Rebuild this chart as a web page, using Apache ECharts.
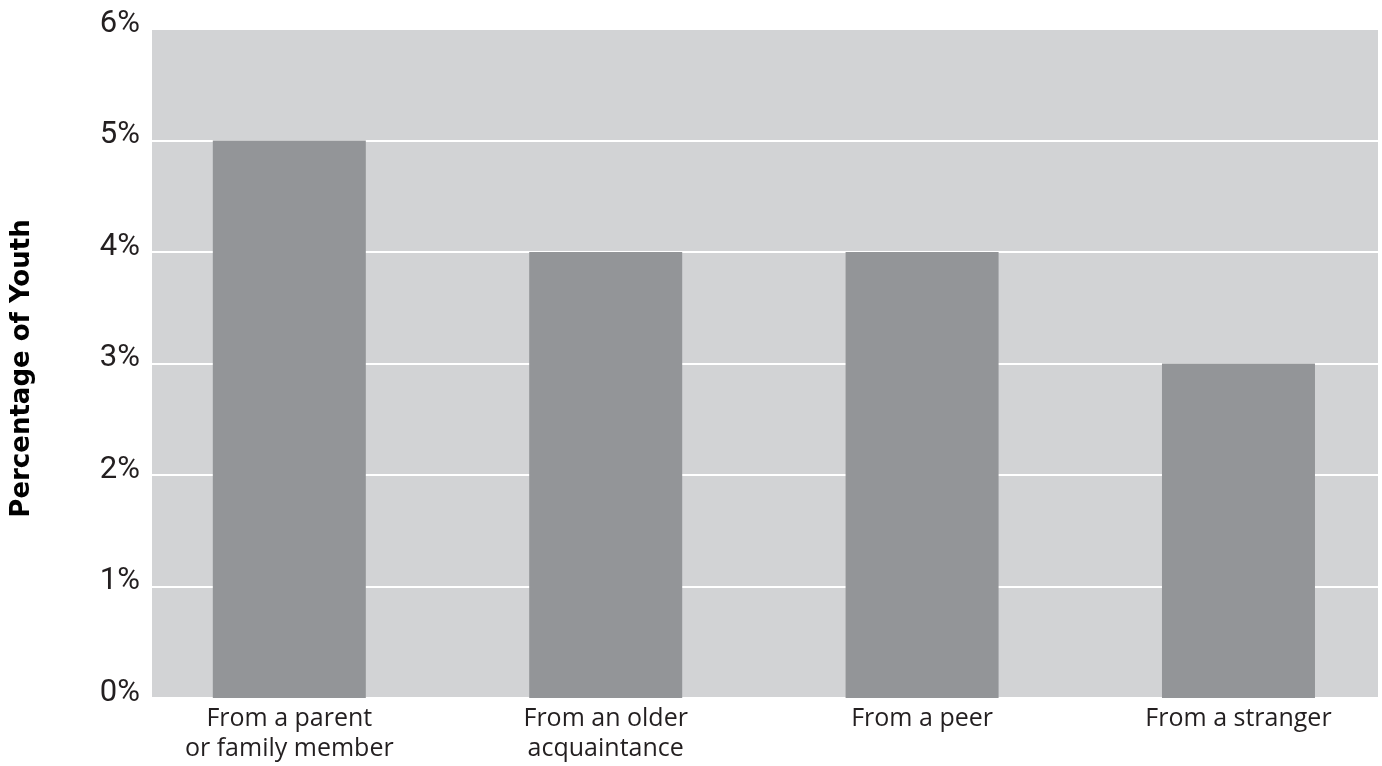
<!DOCTYPE html>
<html>
<head>
<meta charset="utf-8">
<script src="https://cdn.jsdelivr.net/npm/echarts@6/dist/echarts.min.js"></script>
<style>
html,body{margin:0;padding:0;background:#fff;}
#chart{width:1382px;height:766px;}
</style>
</head>
<body>
<div id="chart"></div>
<script>
const categories = ['From a parent\nor family member', 'From an older\nacquaintance', 'From a peer', 'From a stranger'];
const values = [5, 4, 4, 3];
const yTicks = [0, 1, 2, 3, 4, 5, 6];
const yTitle = 'Percentage of Youth';

const chart = echarts.init(document.getElementById('chart'));
chart.setOption({
  animation: false,
  grid: {
    left: 152, right: 4, top: 29, bottom: 68,
    show: true, backgroundColor: '#d2d3d5', borderWidth: 0
  },
  xAxis: {
    type: 'value',
    min: -0.434, max: 3.441,
    splitLine: { show: false },
    axisLine: { show: false },
    axisTick: { show: false },
    axisLabel: {
      customValues: categories.map((c, i) => i),
      formatter: v => categories[Math.round(v)] || '',
      fontFamily: 'Open Sans', fontSize: 25, lineHeight: 30,
      color: '#231f20', margin: 6, verticalAlign: 'top'
    }
  },
  yAxis: {
    type: 'value',
    min: 0, max: 6, interval: 1,
    name: yTitle,
    nameLocation: 'middle',
    nameGap: 117,
    nameRotate: 90,
    nameTextStyle: { fontFamily: 'DejaVu Sans', fontWeight: 'bold', fontSize: 26, color: '#000', padding: [0, 10, 0, 0] },
    axisLine: { show: false },
    axisTick: { show: false },
    splitLine: { show: true, lineStyle: { color: '#ffffff', width: 2 } },
    axisLabel: {
      customValues: yTicks,
      formatter: v => v + '%',
      fontFamily: 'Roboto', fontWeight: 'normal', fontSize: 31, lineHeight: 10,
      color: '#231f20', margin: 12,
      verticalAlign: 'bottom'
    }
  },
  series: [{
    type: 'bar',
    data: values.map((v, i) => [i, v]),
    barWidth: 153,
    itemStyle: { color: '#939598' }
  }]
});
</script>
</body>
</html>
